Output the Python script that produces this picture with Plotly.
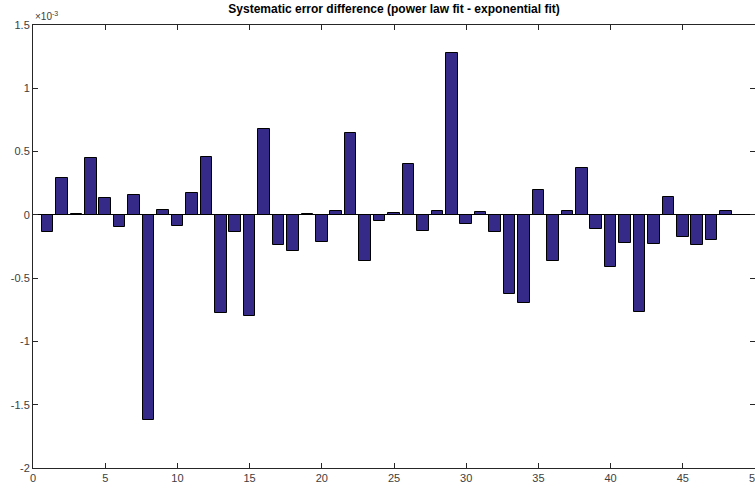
import plotly.graph_objects as go

# Data (values in units of 1e-3)
bar_index = list(range(1, 49))
error_diff = [
    -0.137, 0.292, 0.008, 0.447, 0.137, -0.095, 0.155, -1.623, 0.042, -0.086,
    0.174, 0.458, -0.775, -0.136, -0.798, 0.682, -0.238, -0.285, 0.008, -0.215,
    0.034, 0.647, -0.361, -0.052, 0.016, 0.405, -0.128, 0.034, 1.279, -0.076,
    0.026, -0.134, -0.626, -0.696, 0.200, -0.361, 0.034, 0.371, -0.110, -0.411,
    -0.220, -0.764, -0.230, 0.139, -0.173, -0.241, -0.196, 0.034,
]
x_ticks = [0, 5, 10, 15, 20, 25, 30, 35, 40, 45, 50]
y_ticks = [-2, -1.5, -1, -0.5, 0, 0.5, 1, 1.5]
y_tick_labels = ["-2", "-1.5", "-1", "-0.5", "0", "0.5", "1", "1.5"]

axis_color = "#262626"
label_color = "#404040"
font_family = "Liberation Sans, Arial, Helvetica, sans-serif"

fig = go.Figure()
fig.add_trace(go.Bar(
    x=bar_index,
    y=error_diff,
    width=0.8,
    marker=dict(color="#352A87", line=dict(color="black", width=1)),
))

fig.update_layout(
    width=755, height=488,
    margin=dict(l=33, r=0, t=25, b=20, autoexpand=False),
    paper_bgcolor="white", plot_bgcolor="white",
    showlegend=False,
    font=dict(family=font_family, size=11, color=axis_color),
    title=dict(
        text="<b>Systematic error difference (power law fit - exponential fit)</b>",
        x=0.5, xref="paper", xanchor="center",
        y=1, yref="container", yanchor="top", pad=dict(t=5),
        font=dict(size=12, color="black", family=font_family),
    ),
    bargap=0,
)
fig.update_xaxes(
    range=[0, 50], tickvals=x_ticks, ticktext=[str(v) for v in x_ticks],
    ticks="inside", ticklen=5, tickcolor=axis_color,
    showline=True, linecolor=axis_color, linewidth=1, mirror="ticks",
    showgrid=False, zeroline=False, ticklabeloverflow="allow",
    automargin=False,
    tickfont=dict(size=11, color=label_color),
)
fig.update_yaxes(
    range=[-2, 1.5], tickvals=y_ticks, ticktext=y_tick_labels,
    ticks="inside", ticklen=5, tickcolor=axis_color,
    showline=True, linecolor=axis_color, linewidth=1, mirror="ticks",
    showgrid=False, zeroline=True, zerolinecolor="black", zerolinewidth=1,
    ticklabeloverflow="allow", automargin=False,
    tickfont=dict(size=11, color=label_color),
)
fig.add_annotation(
    text="×10<sup>-3</sup>", xref="paper", yref="paper", x=0, y=1,
    xanchor="left", yanchor="bottom", showarrow=False,
    font=dict(size=10, color=label_color, family=font_family), yshift=1,
)

fig.write_html("out.html")
